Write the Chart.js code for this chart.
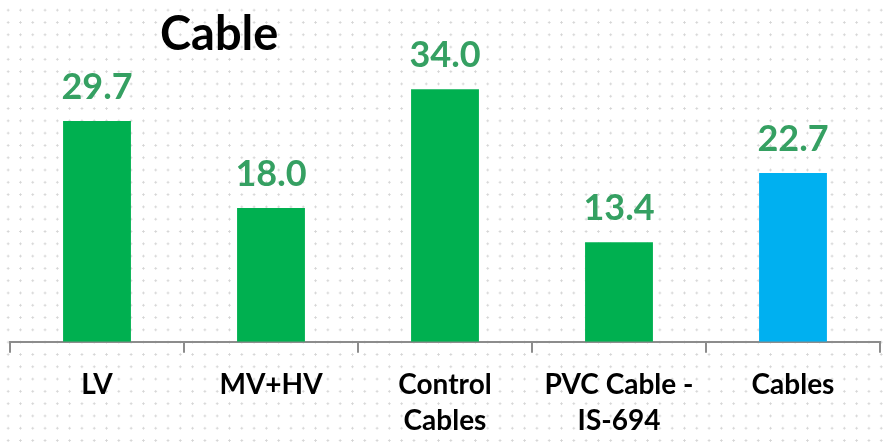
<!DOCTYPE html>
<html>
<head>
<meta charset="utf-8">
<script src="https://cdn.jsdelivr.net/npm/chart.js@4.4.1/dist/chart.umd.min.js"></script>
<style>
  html, body { margin: 0; padding: 0; }
  body {
    width: 884px; height: 447px; overflow: hidden;
    background-color: #ffffff;
    background-image: radial-gradient(circle, #d4d4d4 0.9px, transparent 1.3px);
    background-size: 12.3px 12.3px;
    background-position: 2px 4px;
  }
  #wrap { position: relative; width: 884px; height: 447px; }
</style>
</head>
<body>
<div id="wrap"><canvas id="cableChart"></canvas></div>
<script>
// Data
const categories = [['LV'], ['MV+HV'], ['Control', 'Cables'], ['PVC Cable -', 'IS-694'], ['Cables']];
const values = [29.7, 18.0, 34.0, 13.4, 22.7];
const barColors = ['#00B050', '#00B050', '#00B050', '#00B050', '#00B0F0'];
const chartTitle = 'Cable';

// value labels above bars + the title
const labelPlugin = {
    id: 'labelPlugin',
    afterDatasetsDraw(chart) {
        let ctx = chart.ctx;
        let meta = chart.getDatasetMeta(0);
        ctx.save();
        ctx.fillStyle = '#35A062';
        ctx.font = 'bold 36px Lato, "Open Sans", sans-serif';
        ctx.textAlign = 'center';
        ctx.textBaseline = 'alphabetic';
        meta.data.forEach((bar, i) => {
            ctx.fillText(values[i].toFixed(1), bar.x, bar.y - 22);
        });
        ctx.fillStyle = '#000000';
        ctx.font = 'bold 47px Lato, "Open Sans", sans-serif';
        ctx.textAlign = 'left';
        ctx.fillText(chartTitle, 160, 50);
        ctx.restore();
    }
};

let ctx = document.getElementById('cableChart').getContext('2d');
window.myChart = new Chart(ctx, {
    type: 'bar',
    data: {
        labels: categories,
        datasets: [{
            data: values,
            backgroundColor: barColors,
            categoryPercentage: 1.0,
            barPercentage: 0.39
        }]
    },
    options: {
        responsive: true,
        maintainAspectRatio: false,
        animation: false,
        layout: { padding: { left: 10, right: 4, top: 0, bottom: -6 } },
        plugins: {
            legend: { display: false },
            tooltip: { enabled: false }
        },
        scales: {
            x: {
                border: { color: '#8c8c8c', width: 2 },
                grid: {
                    offset: true,
                    drawOnChartArea: false,
                    drawTicks: true,
                    tickLength: 11,
                    color: '#8c8c8c',
                    lineWidth: 2
                },
                ticks: {
                    color: '#000000',
                    padding: 14,
                    font: { family: 'Lato, "Open Sans", sans-serif', size: 28, weight: 'bold', lineHeight: 1.29 }
                }
            },
            y: {
                display: false,
                min: 0,
                max: 46
            }
        }
    },
    plugins: [labelPlugin]
});
</script>
</body>
</html>
